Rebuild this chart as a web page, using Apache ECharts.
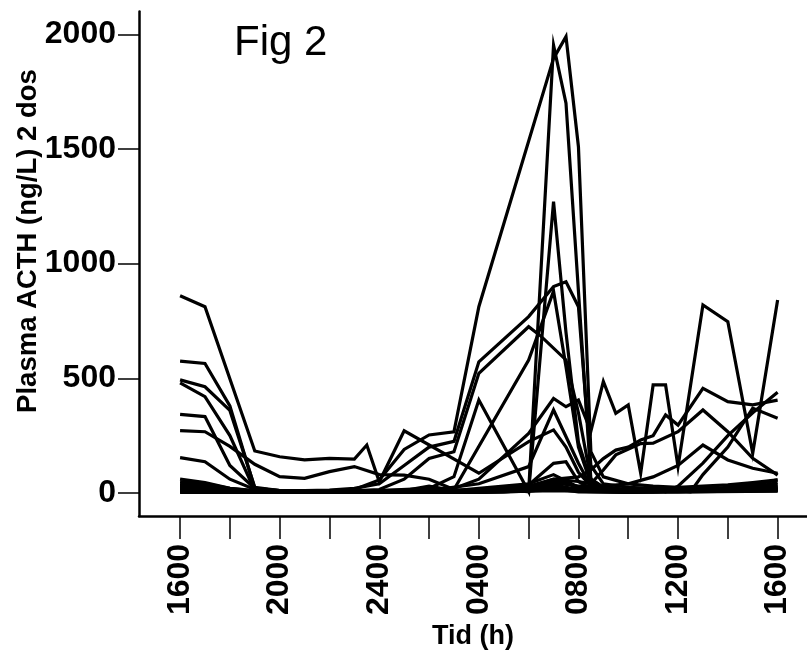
<!DOCTYPE html>
<html>
<head>
<meta charset="utf-8">
<script src="https://cdn.jsdelivr.net/npm/echarts@6/dist/echarts.min.js"></script>
<style>
  html, body { margin: 0; padding: 0; background: #fff; }
  #chart { width: 807px; height: 652px; }
</style>
</head>
<body>
<div id="chart"></div>
<script>
// Hours after 16:00 on day one; values are plasma ACTH in ng/L.
const xTickHours = [0, 2, 4, 6, 8, 10, 12, 14, 16, 18, 20, 22, 24];
const xLabelHours = [0, 4, 8, 12, 16, 20, 24];
const xLabelText = ['1600', '2000', '2400', '0400', '0800', '1200', '1600'];
const yTicks = [0, 500, 1000, 1500, 2000];

const s01 = [[0,860],[1,812],[3,183],[4,158],[5,144],[6,151],[7,148],[7.5,209],[8,49],[9,271],[12,86],[14,224],[15,275],[15.5,200],[16,90],[16.5,30],[17,15],[18,10],[20,10],[22,15],[24,25]];
const s02 = [[0,575],[1,565],[2,380],[3,20],[4,10],[5,8],[6,10],[7,15],[8,57],[9,190],[10,253],[11,267],[12,812],[15,1895],[15.5,1990],[16,1510],[16.5,180],[17,70],[18,40],[19,30],[20,25],[21,30],[22,35],[23,45],[24,57]];
const s03 = [[0,40],[1,30],[2,15],[3,8],[4,5],[6,5],[8,10],[10,20],[11,71],[12,405],[14,6],[15,1953],[15.5,1700],[16,880],[16.5,60],[17,25],[18,15],[20,10],[22,15],[24,20]];
const s04 = [[0,25],[1,20],[2,10],[4,5],[8,5],[12,10],[13,15],[14,5],[15,1270],[15.5,700],[16,220],[16.5,50],[17,20],[18,10],[21,10],[24,12]];
const s05 = [[0,493],[1,463],[2,360],[3,25],[4,10],[5,10],[6,12],[7,20],[8,40],[9,120],[10,200],[11,225],[12,572],[14,769],[15,900],[15.5,921],[16,812],[16.5,120],[17,40],[18,25],[19,20],[20,18],[22,20],[24,35]];
const s06 = [[0,480],[1,420],[2,250],[3,10],[4,5],[6,5],[8,15],[9,60],[10,150],[11,180],[12,522],[14,725],[14.5,683],[15.5,580],[16,350],[16.5,60],[17,25],[18,15],[20,10],[24,15]];
const s07 = [[0,272],[1,267],[2,203],[3,125],[4,71],[5,64],[6,93],[7,115],[8,80],[9,78],[10,60],[11,15],[14,580],[15,880],[15.5,550],[16,200],[16.5,40],[17,20],[18,10],[20,8],[24,10]];
const s08 = [[0,343],[1,333],[2,120],[3,20],[4,10],[6,8],[8,10],[10,15],[11,20],[12,60],[14,260],[15,412],[15.5,376],[16,405],[16.5,270],[17,486],[17.5,347],[18,384],[18.5,86],[19,471],[19.5,471],[20,115],[21,820],[22,747],[23,173],[24,841]];
const s09 = [[0,154],[1,136],[2,60],[3,15],[4,8],[6,5],[8,8],[10,10],[12,40],[14,115],[15,362],[16,130],[16.5,30],[17,15],[20,10],[24,20]];
const s10 = [[0,61],[1,45],[2,20],[3,8],[5,5],[8,5],[12,15],[14,35],[15,129],[15.5,136],[16,50],[16.5,20],[18,10],[24,15]];
const s11 = [[0,20],[1,15],[2,8],[4,5],[8,5],[12,10],[14,30],[15,60],[16,70],[16.5,100],[17,150],[17.5,187],[18,200],[18.5,231],[19,250],[19.5,340],[20,296],[21,456],[22,398],[23,384],[24,405]];
const s12 = [[0,30],[1,25],[2,10],[4,5],[8,5],[12,10],[14,25],[15,60],[16,50],[16.5,40],[17,100],[17.5,166],[18.5,215],[19,217],[20,267],[21,362],[22,267],[23,151],[24,78]];
const s13 = [[0,10],[2,5],[8,5],[12,8],[14,20],[15,45],[16,30],[17,30],[18,40],[19,70],[20,120],[21,209],[22,144],[23,108],[24,86]];
const s14 = [[0,5],[4,3],[8,3],[12,5],[14,15],[15,49],[15.5,49],[16,20],[17,10],[18,8],[19,20],[19.5,5],[20,30],[21,130],[22,250],[23,350],[24,439]];
const s15 = [[0,12],[2,5],[8,4],[12,8],[14,22],[15,35],[16,15],[17,8],[19,5],[20,10],[20.5,5],[21,80],[22,200],[23,370],[24,326]];
const s16 = [[0,50],[1,40],[2,20],[3,10],[5,5],[10,5],[12,8],[14,20],[15,40],[15.5,45],[16,20],[17,8],[20,10],[22,25],[23,35],[24,57]];
const s17 = [[0,35],[1,30],[2,12],[4,5],[10,3],[13,5],[14,12],[15,30],[16,10],[18,5],[21,15],[23,25],[24,45]];
const s18 = [[0,8],[2,3],[8,2],[12,3],[14,8],[15,20],[16,5],[18,3],[21,8],[24,30]];
const s19 = [[0,3],[4,2],[12,2],[15,10],[18,2],[24,8]];
const s20 = [[0,15],[1,10],[3,3],[6,2],[9,10],[10,30],[11,10],[12,20],[14,40],[15,80],[16,25],[17,10],[20,5],[24,10]];

const subjects = [s01, s02, s03, s04, s05, s06, s07, s08, s09, s10,
                  s11, s12, s13, s14, s15, s16, s17, s18, s19, s20];

const FONT = '"Liberation Sans", Arial, Helvetica, sans-serif';

const chart = echarts.init(document.getElementById('chart'), null, { renderer: 'canvas' });

chart.setOption({
  animation: false,
  backgroundColor: '#ffffff',
  grid: {
    left: 139, right: 0, top: 11.4, bottom: 136.1,
    containLabel: false,
    outerBoundsMode: 'none'
  },
  graphic: [
    {
      type: 'text',
      left: 234, top: 22,
      style: { text: 'Fig 2', font: 'normal 42px ' + FONT, fill: '#000' }
    },
    {
      type: 'text',
      x: 28, y: 241,
      rotation: Math.PI / 2,
      style: {
        text: 'Plasma ACTH (ng/L) 2 dos',
        font: 'bold 27.5px ' + FONT,
        fill: '#000',
        align: 'center',
        verticalAlign: 'middle'
      }
    }
  ],
  xAxis: {
    type: 'value',
    min: -1.65,
    max: 25.18,
    name: 'Tid (h)',
    nameLocation: 'middle',
    nameGap: 105,
    nameTextStyle: { fontFamily: FONT, fontWeight: 'bold', fontSize: 27, color: '#000' },
    axisLine: { onZero: false, lineStyle: { color: '#000', width: 2.5 } },
    axisTick: { show: true, inside: false, length: 23, customValues: xTickHours, lineStyle: { color: '#000', width: 1.5 } },
    axisLabel: {
      show: true,
      customValues: xLabelHours,
      rotate: 90,
      margin: 28,
      fontFamily: FONT,
      fontWeight: 'bold',
      fontSize: 32,
      color: '#000',
      formatter: function (v) { return xLabelText[xLabelHours.indexOf(v)]; }
    },
    splitLine: { show: false }
  },
  yAxis: {
    type: 'value',
    min: -100,
    max: 2100,
    axisLine: { show: true, onZero: false, lineStyle: { color: '#000', width: 2.5 } },
    axisTick: { show: true, inside: false, length: 21, customValues: yTicks, lineStyle: { color: '#000', width: 1.5 } },
    axisLabel: {
      show: true,
      customValues: yTicks,
      margin: 23,
      fontFamily: FONT,
      fontWeight: 'bold',
      fontSize: 32,
      color: '#000',
      formatter: function (v) { return String(v); }
    },
    splitLine: { show: false }
  },
  series: subjects.map(function (d, i) {
    return {
      name: 'S' + (i + 1),
      type: 'line',
      data: d,
      symbol: 'none',
      showSymbol: false,
      smooth: false,
      clip: true,
      lineStyle: { color: '#000', width: 3.2, join: 'miter' },
      emphasis: { disabled: true }
    };
  })
});
</script>
</body>
</html>
